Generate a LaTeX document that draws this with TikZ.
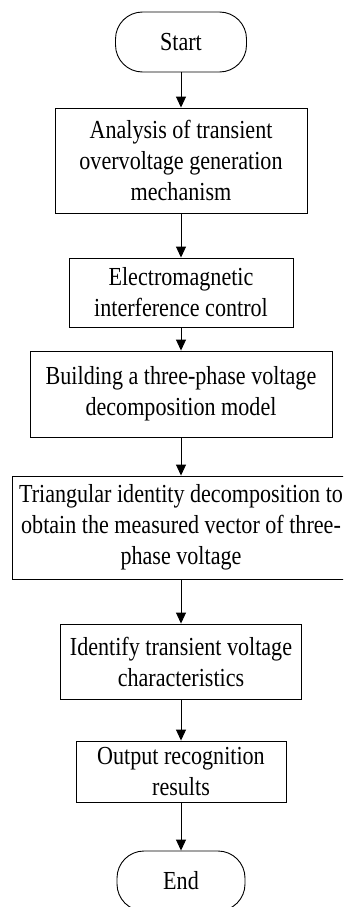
\documentclass[tikz,border=0pt]{standalone}
\usepackage{fontspec}
\setmainfont{Liberation Serif}[FakeStretch=0.85]
\usetikzlibrary{arrows.meta}
\begin{document}
\begin{tikzpicture}[x=1pt,y=-1pt,
  every node/.style={font=\fontsize{26}{31}\selectfont, align=center, inner sep=0pt, line width=0.9pt},
  procbox/.style={draw, rectangle},
  termbox/.style={draw, rectangle, rounded corners=27pt},
  flow/.style={draw, line width=0.9pt, -{Triangle[length=11pt,width=10pt]}}]
\useasboundingbox (0,0) rectangle (343,907);
\clip (0,0) rectangle (343,907);
\node[termbox, minimum width=131pt, minimum height=60pt] (s) at (181,42) {Start};
\node[procbox, minimum width=252pt, minimum height=105pt] (b1) at (181,160.5) {Analysis of transient\\overvoltage generation\\mechanism};
\node[procbox, minimum width=224pt, minimum height=69pt] (b2) at (181,292.5) {Electromagnetic\\interference control};
\node[procbox, minimum width=302pt, minimum height=86pt] (b3) at (181,394) {Building a three-phase voltage\\decomposition model};
\node[procbox, minimum width=338pt, minimum height=103pt] (b4) at (181,527.5) {Triangular identity decomposition to\\obtain the measured vector of three-\\phase voltage};
\node[procbox, minimum width=241pt, minimum height=75pt] (b5) at (181,661.5) {Identify transient voltage\\characteristics};
\node[procbox, minimum width=210pt, minimum height=61pt] (b6) at (181,771.5) {Output recognition\\results};
\node[termbox, minimum width=128pt, minimum height=60pt] (e) at (181,881) {End};
\draw[flow] (s) -- (b1);
\draw[flow] (b1) -- (b2);
\draw[flow] (b2) -- (b3);
\draw[flow] (b3) -- (b4);
\draw[flow] (b4) -- (b5);
\draw[flow] (b5) -- (b6);
\draw[flow] (b6) -- (e);
\end{tikzpicture}
\end{document}
